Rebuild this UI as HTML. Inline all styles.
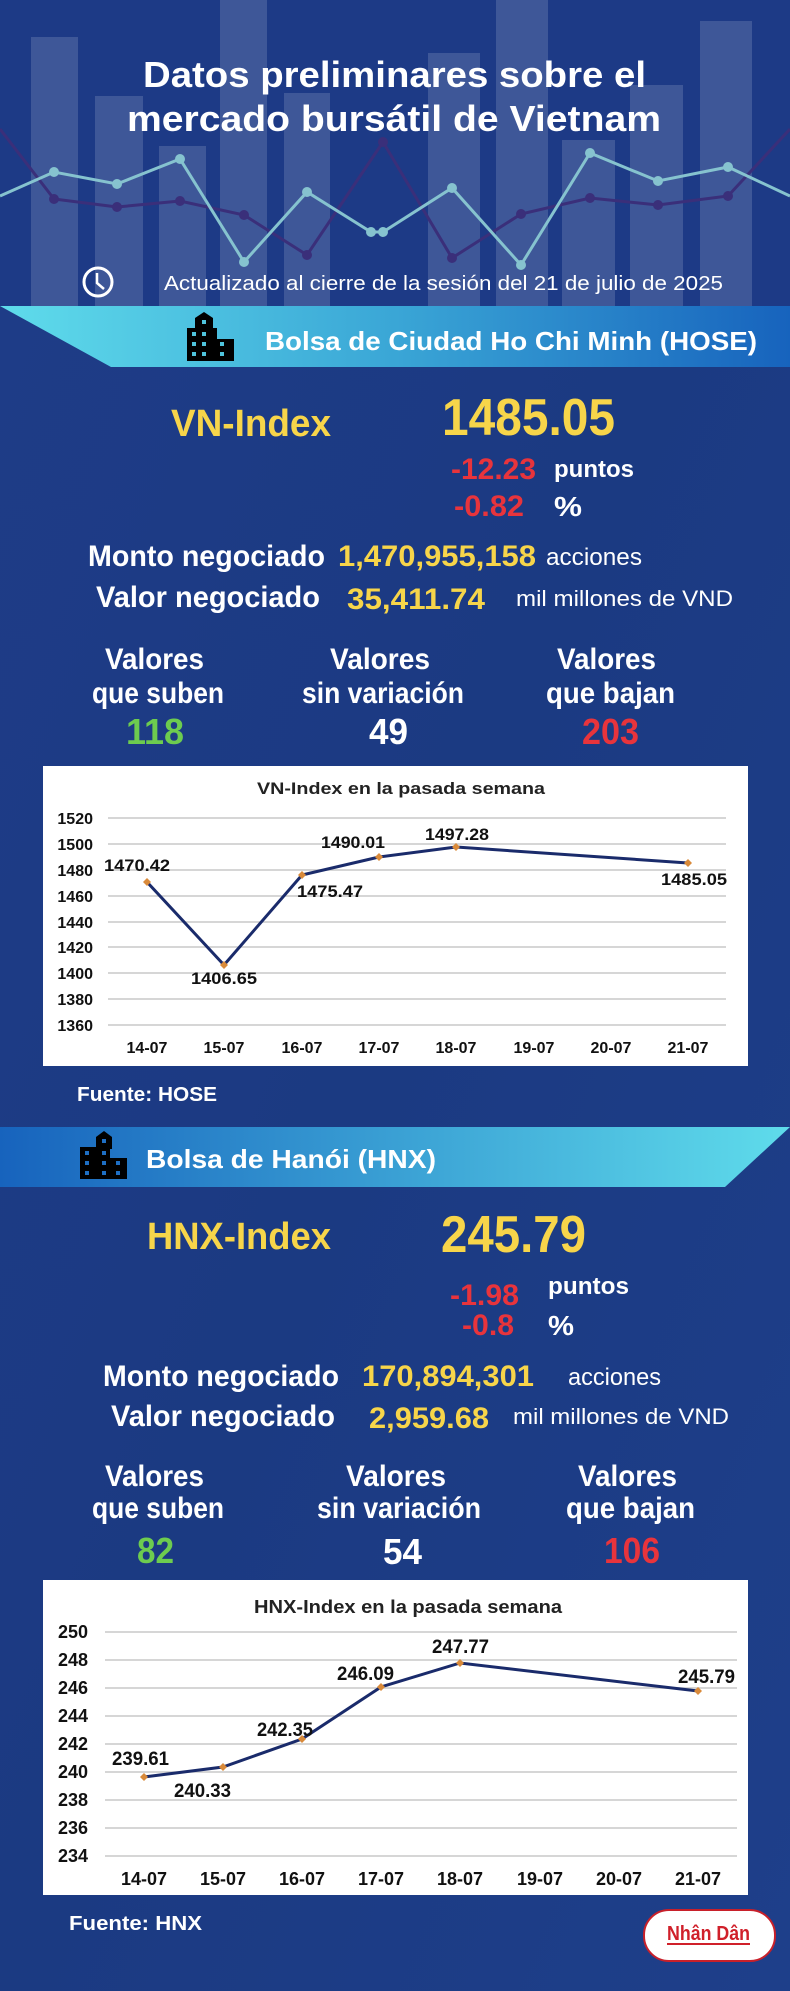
<!DOCTYPE html>
<html><head><meta charset="utf-8"><style>
html,body{margin:0;padding:0;background:#1c3a82;}
svg{display:block;font-family:"Liberation Sans",sans-serif;font-weight:bold;}
</style></head><body>
<svg width="790" height="1991" viewBox="0 0 790 1991" xmlns="http://www.w3.org/2000/svg">
<defs>
<linearGradient id="bg" x1="0" y1="0" x2="1" y2="1">
<stop offset="0" stop-color="#1f3c88"/><stop offset="0.5" stop-color="#1b3a82"/><stop offset="1" stop-color="#1e3f8a"/></linearGradient>
<linearGradient id="b1" x1="0" y1="0" x2="1" y2="0"><stop offset="0" stop-color="#5fdceb"/><stop offset="0.5" stop-color="#3aa6d6"/><stop offset="1" stop-color="#1763bd"/></linearGradient>
<linearGradient id="b2" x1="0" y1="0" x2="1" y2="0"><stop offset="0" stop-color="#1763bd"/><stop offset="0.5" stop-color="#3aa0d4"/><stop offset="1" stop-color="#5fdceb"/></linearGradient>
</defs>
<rect width="790" height="1991" fill="url(#bg)"/>
<rect width="790" height="306" fill="#1d3a86"/>
<g fill="#ffffff" fill-opacity="0.15">
<rect x="31" y="37" width="47" height="269"/><rect x="95" y="96" width="48" height="210"/><rect x="159" y="146" width="47" height="160"/><rect x="220" y="0" width="47" height="306"/><rect x="284" y="93" width="46" height="213"/><rect x="428" y="53" width="52" height="253"/><rect x="496" y="0" width="52" height="306"/><rect x="562" y="140" width="53" height="166"/><rect x="630" y="85" width="53" height="221"/><rect x="700" y="21" width="52" height="285"/>
</g>
<g fill="none" stroke-width="3">
<polyline stroke="#3a2f7a" points="0,129 54,199 117,207 180,201 244,215 307,255 383,142 452,258 521,214 590,198 658,205 728,196 790,129"/>
<polyline stroke="#86c3cf" points="0,196 54,172 117,184 180,159 244,262 307,192 371,232 383,232 452,188 521,265 590,153 658,181 728,167 790,196"/>
</g>
<g fill="#3a2f7a"><circle cx="54" cy="199" r="5"/><circle cx="117" cy="207" r="5"/><circle cx="180" cy="201" r="5"/><circle cx="244" cy="215" r="5"/><circle cx="307" cy="255" r="5"/><circle cx="383" cy="142" r="5"/><circle cx="452" cy="258" r="5"/><circle cx="521" cy="214" r="5"/><circle cx="590" cy="198" r="5"/><circle cx="658" cy="205" r="5"/><circle cx="728" cy="196" r="5"/></g>
<g fill="#86c3cf"><circle cx="54" cy="172" r="5"/><circle cx="117" cy="184" r="5"/><circle cx="180" cy="159" r="5"/><circle cx="244" cy="262" r="5"/><circle cx="307" cy="192" r="5"/><circle cx="371" cy="232" r="5"/><circle cx="383" cy="232" r="5"/><circle cx="452" cy="188" r="5"/><circle cx="521" cy="265" r="5"/><circle cx="590" cy="153" r="5"/><circle cx="658" cy="181" r="5"/><circle cx="728" cy="167" r="5"/></g>
<g fill="#fff">
<text x="143" y="87" font-size="36" textLength="503" lengthAdjust="spacingAndGlyphs">Datos preliminares sobre el</text>
<text x="127" y="131" font-size="36" textLength="534" lengthAdjust="spacingAndGlyphs">mercado bursátil de Vietnam</text>
<text x="164" y="290" font-size="20" font-weight="normal" textLength="559" lengthAdjust="spacingAndGlyphs">Actualizado al cierre de la sesión del 21 de julio de 2025</text>
</g>
<circle cx="98" cy="282" r="14" fill="none" stroke="#fff" stroke-width="3"/>
<polyline points="97,273 97,283 104,289" fill="none" stroke="#fff" stroke-width="2.5"/>
<!-- HOSE banner -->
<polygon points="0,306 790,306 790,367 111,367" fill="url(#b1)"/>
<g transform="translate(187,312)">
<rect x="0" y="16" width="30" height="33" fill="#000"/><polygon points="17,0 26,6 26,16 8,16 8,6" fill="#000"/><rect x="8" y="6" width="18" height="12" fill="#000"/><rect x="24" y="27" width="23" height="22" fill="#000"/>
<g fill="#4fc3dc"><rect x="15" y="8" width="4" height="4"/><rect x="5" y="20" width="4" height="4"/><rect x="15" y="20" width="4" height="4"/><rect x="5" y="30" width="4" height="4"/><rect x="15" y="30" width="4" height="4"/><rect x="33" y="30" width="4" height="4"/><rect x="5" y="40" width="4" height="4"/><rect x="15" y="40" width="4" height="4"/><rect x="33" y="40" width="4" height="4"/></g>
</g>
<text x="265" y="350" font-size="26" fill="#fff" textLength="492" lengthAdjust="spacingAndGlyphs">Bolsa de Ciudad Ho Chi Minh (HOSE)</text>
<text x="171" y="436" font-size="38" fill="#f7d54a" textLength="160" lengthAdjust="spacingAndGlyphs">VN-Index</text>
<text x="442" y="435" font-size="52" fill="#f7d54a" textLength="173" lengthAdjust="spacingAndGlyphs">1485.05</text>
<text x="451" y="479" font-size="30" fill="#e8343c" textLength="85" lengthAdjust="spacingAndGlyphs">-12.23</text>
<text x="554" y="477" font-size="24" fill="#fff" textLength="80" lengthAdjust="spacingAndGlyphs">puntos</text>
<text x="454" y="516" font-size="30" fill="#e8343c" textLength="70" lengthAdjust="spacingAndGlyphs">-0.82</text>
<text x="554" y="516" font-size="28" fill="#fff" textLength="28" lengthAdjust="spacingAndGlyphs">%</text>
<text x="88" y="566" font-size="30" fill="#fff" textLength="237" lengthAdjust="spacingAndGlyphs">Monto negociado</text>
<text x="338" y="566" font-size="30" fill="#f7d54a" textLength="198" lengthAdjust="spacingAndGlyphs">1,470,955,158</text>
<text x="546" y="565" font-size="24" font-weight="normal" fill="#fff" textLength="96" lengthAdjust="spacingAndGlyphs">acciones</text>
<text x="96" y="607" font-size="30" fill="#fff" textLength="224" lengthAdjust="spacingAndGlyphs">Valor negociado</text>
<text x="347" y="609" font-size="30" fill="#f7d54a" textLength="138" lengthAdjust="spacingAndGlyphs">35,411.74</text>
<text x="516" y="606" font-size="22" font-weight="normal" fill="#fff" textLength="217" lengthAdjust="spacingAndGlyphs">mil millones de VND</text>
<g fill="#fff" font-size="30">
<text x="105" y="669" textLength="99" lengthAdjust="spacingAndGlyphs">Valores</text>
<text x="330" y="669" textLength="100" lengthAdjust="spacingAndGlyphs">Valores</text>
<text x="557" y="669" textLength="99" lengthAdjust="spacingAndGlyphs">Valores</text>
<text x="92" y="703" textLength="132" lengthAdjust="spacingAndGlyphs">que suben</text>
<text x="302" y="703" textLength="162" lengthAdjust="spacingAndGlyphs">sin variación</text>
<text x="546" y="703" textLength="129" lengthAdjust="spacingAndGlyphs">que bajan</text>
</g>
<text x="126" y="744" font-size="36" fill="#6dcc4f" textLength="58" lengthAdjust="spacingAndGlyphs">118</text>
<text x="369" y="744" font-size="36" fill="#fff" textLength="39" lengthAdjust="spacingAndGlyphs">49</text>
<text x="582" y="744" font-size="36" fill="#e8343c" textLength="57" lengthAdjust="spacingAndGlyphs">203</text>
<!-- Chart 1 -->
<rect x="43" y="766" width="705" height="300" fill="#fff"/>
<text x="257" y="794" font-size="17" fill="#222" textLength="288" lengthAdjust="spacingAndGlyphs">VN-Index en la pasada semana</text>
<g stroke="#c8c8c8" stroke-width="1.5">
<line x1="108" y1="818" x2="726" y2="818"/><line x1="108" y1="844" x2="726" y2="844"/><line x1="108" y1="870" x2="726" y2="870"/><line x1="108" y1="896" x2="726" y2="896"/><line x1="108" y1="922" x2="726" y2="922"/><line x1="108" y1="947" x2="726" y2="947"/><line x1="108" y1="973" x2="726" y2="973"/><line x1="108" y1="999" x2="726" y2="999"/><line x1="108" y1="1025" x2="726" y2="1025"/>
</g>
<g font-size="16" fill="#111" text-anchor="end">
<text x="93" y="824">1520</text><text x="93" y="850">1500</text><text x="93" y="876">1480</text><text x="93" y="902">1460</text><text x="93" y="928">1440</text><text x="93" y="953">1420</text><text x="93" y="979">1400</text><text x="93" y="1005">1380</text><text x="93" y="1031">1360</text>
</g>
<g font-size="16" fill="#111" text-anchor="middle">
<text x="147" y="1053">14-07</text><text x="224" y="1053">15-07</text><text x="302" y="1053">16-07</text><text x="379" y="1053">17-07</text><text x="456" y="1053">18-07</text><text x="534" y="1053">19-07</text><text x="611" y="1053">20-07</text><text x="688" y="1053">21-07</text>
</g>
<polyline points="147,882 224,965 302,875 379,857 456,847 688,863" fill="none" stroke="#1a2b6b" stroke-width="3"/>
<g fill="#d98a3a"><path d="M147 878l4 4-4 4-4-4z"/><path d="M224 961l4 4-4 4-4-4z"/><path d="M302 871l4 4-4 4-4-4z"/><path d="M379 853l4 4-4 4-4-4z"/><path d="M456 843l4 4-4 4-4-4z"/><path d="M688 859l4 4-4 4-4-4z"/></g>
<g font-size="17" fill="#111">
<text x="104" y="871" textLength="66" lengthAdjust="spacingAndGlyphs">1470.42</text>
<text x="191" y="984" textLength="66" lengthAdjust="spacingAndGlyphs">1406.65</text>
<text x="297" y="897" textLength="66" lengthAdjust="spacingAndGlyphs">1475.47</text>
<text x="321" y="848" textLength="64" lengthAdjust="spacingAndGlyphs">1490.01</text>
<text x="425" y="840" textLength="64" lengthAdjust="spacingAndGlyphs">1497.28</text>
<text x="661" y="885" textLength="66" lengthAdjust="spacingAndGlyphs">1485.05</text>
</g>
<text x="77" y="1101" font-size="20" fill="#fff" textLength="140" lengthAdjust="spacingAndGlyphs">Fuente: HOSE</text>
<!-- HNX banner -->
<polygon points="0,1127 790,1127 725,1187 0,1187" fill="url(#b2)"/>
<g transform="translate(80,1131)">
<rect x="0" y="16" width="30" height="32" fill="#000"/><polygon points="24,0 32,6 32,16 16,16 16,6" fill="#000"/><rect x="16" y="6" width="16" height="12" fill="#000"/><rect x="30" y="27" width="17" height="21" fill="#000"/>
<g fill="#1e6fc4"><rect x="22" y="8" width="4" height="4"/><rect x="5" y="20" width="4" height="4"/><rect x="22" y="20" width="4" height="4"/><rect x="5" y="30" width="4" height="4"/><rect x="22" y="30" width="4" height="4"/><rect x="36" y="30" width="4" height="4"/><rect x="5" y="40" width="4" height="4"/><rect x="22" y="40" width="4" height="4"/><rect x="36" y="40" width="4" height="4"/></g>
</g>
<text x="146" y="1168" font-size="26" fill="#fff" textLength="290" lengthAdjust="spacingAndGlyphs">Bolsa de Hanói (HNX)</text>
<text x="147" y="1249" font-size="38" fill="#f7d54a" textLength="184" lengthAdjust="spacingAndGlyphs">HNX-Index</text>
<text x="441" y="1252" font-size="52" fill="#f7d54a" textLength="145" lengthAdjust="spacingAndGlyphs">245.79</text>
<text x="450" y="1305" font-size="30" fill="#e8343c" textLength="69" lengthAdjust="spacingAndGlyphs">-1.98</text>
<text x="548" y="1294" font-size="24" fill="#fff" textLength="81" lengthAdjust="spacingAndGlyphs">puntos</text>
<text x="462" y="1335" font-size="30" fill="#e8343c" textLength="52" lengthAdjust="spacingAndGlyphs">-0.8</text>
<text x="548" y="1335" font-size="28" fill="#fff" textLength="26" lengthAdjust="spacingAndGlyphs">%</text>
<text x="103" y="1386" font-size="30" fill="#fff" textLength="236" lengthAdjust="spacingAndGlyphs">Monto negociado</text>
<text x="362" y="1386" font-size="30" fill="#f7d54a" textLength="172" lengthAdjust="spacingAndGlyphs">170,894,301</text>
<text x="568" y="1385" font-size="24" font-weight="normal" fill="#fff" textLength="93" lengthAdjust="spacingAndGlyphs">acciones</text>
<text x="111" y="1426" font-size="30" fill="#fff" textLength="224" lengthAdjust="spacingAndGlyphs">Valor negociado</text>
<text x="369" y="1428" font-size="30" fill="#f7d54a" textLength="120" lengthAdjust="spacingAndGlyphs">2,959.68</text>
<text x="513" y="1424" font-size="22" font-weight="normal" fill="#fff" textLength="216" lengthAdjust="spacingAndGlyphs">mil millones de VND</text>
<g fill="#fff" font-size="30">
<text x="105" y="1486" textLength="99" lengthAdjust="spacingAndGlyphs">Valores</text>
<text x="346" y="1486" textLength="100" lengthAdjust="spacingAndGlyphs">Valores</text>
<text x="578" y="1486" textLength="99" lengthAdjust="spacingAndGlyphs">Valores</text>
<text x="92" y="1518" textLength="132" lengthAdjust="spacingAndGlyphs">que suben</text>
<text x="317" y="1518" textLength="164" lengthAdjust="spacingAndGlyphs">sin variación</text>
<text x="566" y="1518" textLength="129" lengthAdjust="spacingAndGlyphs">que bajan</text>
</g>
<text x="137" y="1563" font-size="36" fill="#6dcc4f" textLength="37" lengthAdjust="spacingAndGlyphs">82</text>
<text x="383" y="1564" font-size="36" fill="#fff" textLength="39" lengthAdjust="spacingAndGlyphs">54</text>
<text x="604" y="1563" font-size="36" fill="#e8343c" textLength="56" lengthAdjust="spacingAndGlyphs">106</text>
<!-- Chart 2 -->
<rect x="43" y="1580" width="705" height="315" fill="#fff"/>
<text x="254" y="1613" font-size="18" fill="#222" textLength="308" lengthAdjust="spacingAndGlyphs">HNX-Index en la pasada semana</text>
<g stroke="#c8c8c8" stroke-width="1.5">
<line x1="105" y1="1632" x2="737" y2="1632"/><line x1="105" y1="1660" x2="737" y2="1660"/><line x1="105" y1="1688" x2="737" y2="1688"/><line x1="105" y1="1716" x2="737" y2="1716"/><line x1="105" y1="1744" x2="737" y2="1744"/><line x1="105" y1="1772" x2="737" y2="1772"/><line x1="105" y1="1800" x2="737" y2="1800"/><line x1="105" y1="1828" x2="737" y2="1828"/><line x1="105" y1="1856" x2="737" y2="1856"/>
</g>
<g font-size="18" fill="#111" text-anchor="end">
<text x="88" y="1638">250</text><text x="88" y="1666">248</text><text x="88" y="1694">246</text><text x="88" y="1722">244</text><text x="88" y="1750">242</text><text x="88" y="1778">240</text><text x="88" y="1806">238</text><text x="88" y="1834">236</text><text x="88" y="1862">234</text>
</g>
<g font-size="18" fill="#111" text-anchor="middle">
<text x="144" y="1885">14-07</text><text x="223" y="1885">15-07</text><text x="302" y="1885">16-07</text><text x="381" y="1885">17-07</text><text x="460" y="1885">18-07</text><text x="540" y="1885">19-07</text><text x="619" y="1885">20-07</text><text x="698" y="1885">21-07</text>
</g>
<polyline points="144,1777 223,1767 302,1739 381,1687 460,1663 698,1691" fill="none" stroke="#1a2b6b" stroke-width="3"/>
<g fill="#d98a3a"><path d="M144 1773l4 4-4 4-4-4z"/><path d="M223 1763l4 4-4 4-4-4z"/><path d="M302 1735l4 4-4 4-4-4z"/><path d="M381 1683l4 4-4 4-4-4z"/><path d="M460 1659l4 4-4 4-4-4z"/><path d="M698 1687l4 4-4 4-4-4z"/></g>
<g font-size="19" fill="#111">
<text x="112" y="1765" textLength="57" lengthAdjust="spacingAndGlyphs">239.61</text>
<text x="174" y="1797" textLength="57" lengthAdjust="spacingAndGlyphs">240.33</text>
<text x="257" y="1736" textLength="56" lengthAdjust="spacingAndGlyphs">242.35</text>
<text x="337" y="1680" textLength="57" lengthAdjust="spacingAndGlyphs">246.09</text>
<text x="432" y="1653" textLength="57" lengthAdjust="spacingAndGlyphs">247.77</text>
<text x="678" y="1683" textLength="57" lengthAdjust="spacingAndGlyphs">245.79</text>
</g>
<text x="69" y="1930" font-size="20" fill="#fff" textLength="133" lengthAdjust="spacingAndGlyphs">Fuente:  HNX</text>
<rect x="644" y="1910" width="131" height="51" rx="25" fill="#fff" stroke="#c8202a" stroke-width="2"/>
<text x="667" y="1940" font-size="20" fill="#d0202a" textLength="83" lengthAdjust="spacingAndGlyphs">Nhân Dân</text>
<line x1="667" y1="1944" x2="750" y2="1944" stroke="#d0202a" stroke-width="2"/>
</svg>
</body></html>
